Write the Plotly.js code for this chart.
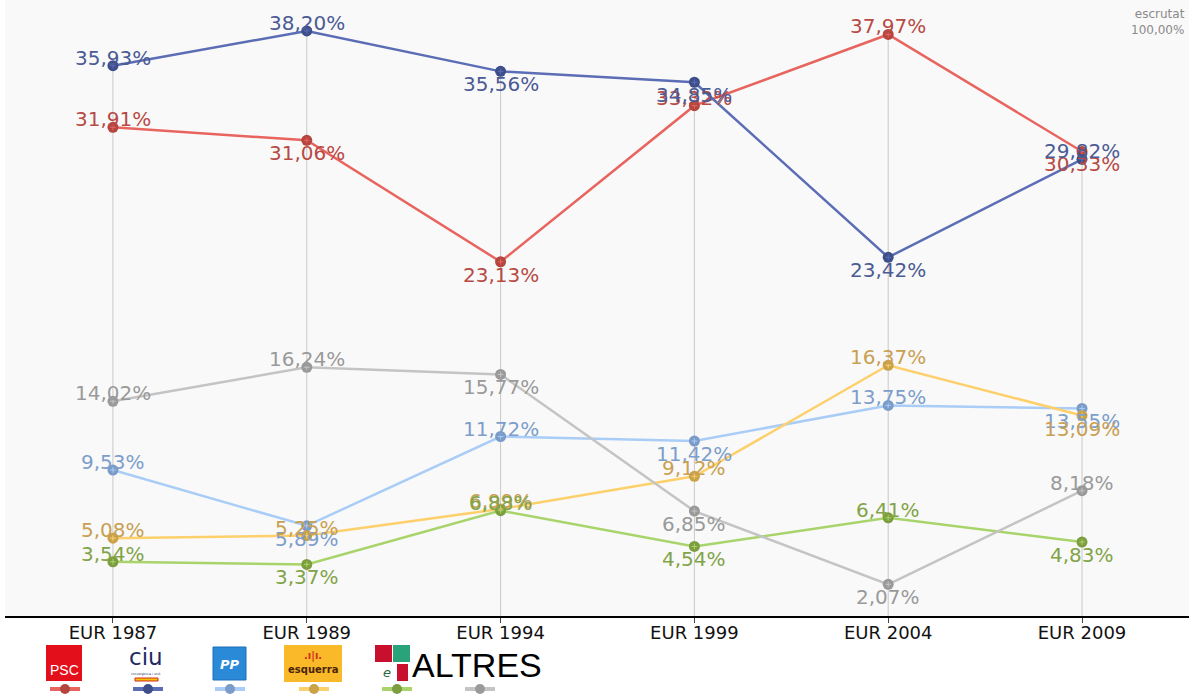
<!DOCTYPE html>
<html>
<head>
<meta charset="utf-8">
<script src="https://cdn.plot.ly/plotly-3.0.1.min.js"></script>
<style>
  html, body { margin: 0; padding: 0; background: #ffffff; }
  #chart { width: 1189px; height: 694px; }
</style>
</head>
<body>
<div id="chart"></div>
<script>
// ---- data ----
const categories = ['EUR 1987', 'EUR 1989', 'EUR 1994', 'EUR 1999', 'EUR 2004', 'EUR 2009'];
const psc    = [31.91, 31.06, 23.13, 33.32, 37.97, 30.33];
const ciu    = [35.93, 38.20, 35.56, 34.85, 23.42, 29.82];
const pp     = [9.53, 5.89, 11.72, 11.42, 13.75, 13.55];
const erc    = [5.08, 5.25, 6.99, 9.12, 16.37, 13.09];
const icv    = [3.54, 3.37, 6.88, 4.54, 6.41, 4.83];
const altres = [14.02, 16.24, 15.77, 6.85, 2.07, 8.18];
const escrutat = '100,00%';

// ---- styles ----
const series = [
  {name: 'PSC',    y: psc,    line: '#e8645f', marker: '#b5463f', text: '#b84a44'},
  {name: 'CiU',    y: ciu,    line: '#5b6db4', marker: '#3e4e8a', text: '#4b5b94'},
  {name: 'PP',     y: pp,     line: '#a9cdf6', marker: '#7b9cc8', text: '#7d9ecb'},
  {name: 'ERC',    y: erc,    line: '#fdd06b', marker: '#c9a24a', text: '#c8a052'},
  {name: 'ICV',    y: icv,    line: '#a8d46b', marker: '#7d9e3e', text: '#82a448'},
  {name: 'ALTRES', y: altres, line: '#c4c4c4', marker: '#9a9a9a', text: '#9a9a9a'}
];

// geometry helpers (pixel -> paper) for the decorative legend
const L = 5, T = 0, W = 1184, H = 616;
const px = x => (x - L) / W;
const py = y => (T + H - y) / H;

// drop lines from the highest value down to the axis
const dropX = [], dropY = [];
categories.forEach((c, i) => {
  const m = Math.max(...series.map(s => s.y[i]));
  dropX.push(c, c, null);
  dropY.push(m, 0, null);
});

const traces = [{
  x: dropX, y: dropY, mode: 'lines', hoverinfo: 'skip', showlegend: false,
  line: {color: '#c9c9c9', width: 1}
}];
series.forEach(s => {
  traces.push({
    x: categories, y: s.y, name: s.name, mode: 'lines+markers', showlegend: false,
    line: {color: s.line, width: 2.5},
    marker: {color: s.marker, size: 11, line: {color: s.marker, width: 0}}
  });
});
series.forEach(s => {
  traces.push({
    x: categories, y: s.y, mode: 'markers', showlegend: false, hoverinfo: 'skip',
    marker: {symbol: 'cross-thin', size: 4, line: {color: s.line, width: 1}}
  });
});

const fmt = v => v.toFixed(2).replace('.', ',') + '%';
const annotations = [];
series.forEach(s => {
  s.y.forEach((v, i) => {
    const below = i > 0 && v < s.y[i - 1];
    annotations.push({
      x: categories[i], y: v, xref: 'x', yref: 'y', text: fmt(v), showarrow: false,
      xanchor: 'center', yanchor: 'middle', yshift: below ? -13 : 8,
      font: {family: 'DejaVu Sans', size: 20, color: s.text}
    });
  });
});
const note = (x, y, text, font) => annotations.push({
  xref: 'paper', yref: 'paper', x: px(x), y: py(y), text: text, showarrow: false,
  xanchor: 'center', yanchor: 'middle', font: font
});
annotations.push({
  xref: 'paper', yref: 'paper', x: px(1187), y: py(5), xanchor: 'right', yanchor: 'top',
  text: 'escrutat<br>' + escrutat, showarrow: false, align: 'right',
  font: {family: 'DejaVu Sans', size: 12, color: '#8a8a8a'}
});

// ---- legend (logos + line symbols) ----
const shapes = [];
const legX = [65, 148, 230, 314, 397, 480];
series.forEach((s, i) => {
  shapes.push({type: 'line', xref: 'paper', yref: 'paper',
    x0: px(legX[i] - 15), x1: px(legX[i] + 15), y0: py(689), y1: py(689),
    line: {color: s.line, width: 4}});
  shapes.push({type: 'circle', xref: 'paper', yref: 'paper',
    x0: px(legX[i] - 5), x1: px(legX[i] + 5), y0: py(684), y1: py(694),
    fillcolor: s.marker, line: {width: 0}});
});
// PSC logo
shapes.push({type: 'rect', xref: 'paper', yref: 'paper', x0: px(46), x1: px(82), y0: py(645), y1: py(681),
  fillcolor: '#e3101b', line: {width: 0}});
note(64, 670, 'PSC', {family: 'Liberation Sans', size: 14, color: '#ffffff'});
// CiU logo
note(146, 657, 'ciu', {family: 'DejaVu Sans', size: 23, color: '#1f2a63'});
note(146, 674, 'convergència i unió', {family: 'DejaVu Sans', size: 3, color: '#1f2a63'});
shapes.push({type: 'rect', xref: 'paper', yref: 'paper', x0: px(135), x1: px(158), y0: py(678), y1: py(681),
  fillcolor: '#f2c200', line: {color: '#d52b1e', width: 1}});
// PP logo
shapes.push({type: 'rect', xref: 'paper', yref: 'paper', x0: px(213), x1: px(246), y0: py(647), y1: py(680),
  fillcolor: '#2b8ad8', line: {color: '#1f6fb8', width: 1}});
note(230, 664, '<b><i>PP</i></b>', {family: 'DejaVu Sans', size: 13, color: '#ffffff'});
// ERC logo
shapes.push({type: 'rect', xref: 'paper', yref: 'paper', x0: px(284), x1: px(342), y0: py(645), y1: py(682),
  fillcolor: '#f9b928', line: {width: 0}});
note(313, 656, '<b>.ı|ı.</b>', {family: 'DejaVu Sans', size: 10, color: '#d0301e'});
note(313, 669, '<b>esquerra</b>', {family: 'DejaVu Sans', size: 10, color: '#4a2408'});
// ICV logo
shapes.push({type: 'rect', xref: 'paper', yref: 'paper', x0: px(375), x1: px(392), y0: py(645), y1: py(662),
  fillcolor: '#c8102e', line: {width: 0}});
shapes.push({type: 'rect', xref: 'paper', yref: 'paper', x0: px(393), x1: px(410), y0: py(645), y1: py(662),
  fillcolor: '#2aa37a', line: {width: 0}});
shapes.push({type: 'rect', xref: 'paper', yref: 'paper', x0: px(397), x1: px(408), y0: py(664), y1: py(681),
  fillcolor: '#c8102e', line: {width: 0}});
note(387, 672, '<i>e</i>', {family: 'DejaVu Sans', size: 13, color: '#2a6b3a'});
// ALTRES
note(477, 665, 'ALTRES', {family: 'Liberation Sans', size: 34, color: '#000000'});

const layout = {
  width: 1189, height: 694,
  margin: {l: L, r: 0, t: T, b: 694 - T - H, pad: 0},
  paper_bgcolor: '#ffffff', plot_bgcolor: '#f9f9f9',
  showlegend: false,
  xaxis: {
    type: 'category', range: [-0.557, 5.552], showgrid: false, zeroline: false,
    showline: true, linecolor: '#000000', linewidth: 1.5,
    ticks: 'outside', ticklen: 5, tickcolor: '#444', tickwidth: 1,
    ticklabelstandoff: -5,
    tickfont: {family: 'DejaVu Sans', size: 18, color: '#111111'}, fixedrange: true
  },
  yaxis: {
    range: [0, 40.22], showgrid: false, zeroline: false, showline: false,
    showticklabels: false, ticks: '', fixedrange: true
  },
  annotations: annotations,
  shapes: shapes,
  hovermode: false
};

Plotly.newPlot('chart', traces, layout, {displayModeBar: false, staticPlot: true});
</script>
</body>
</html>
